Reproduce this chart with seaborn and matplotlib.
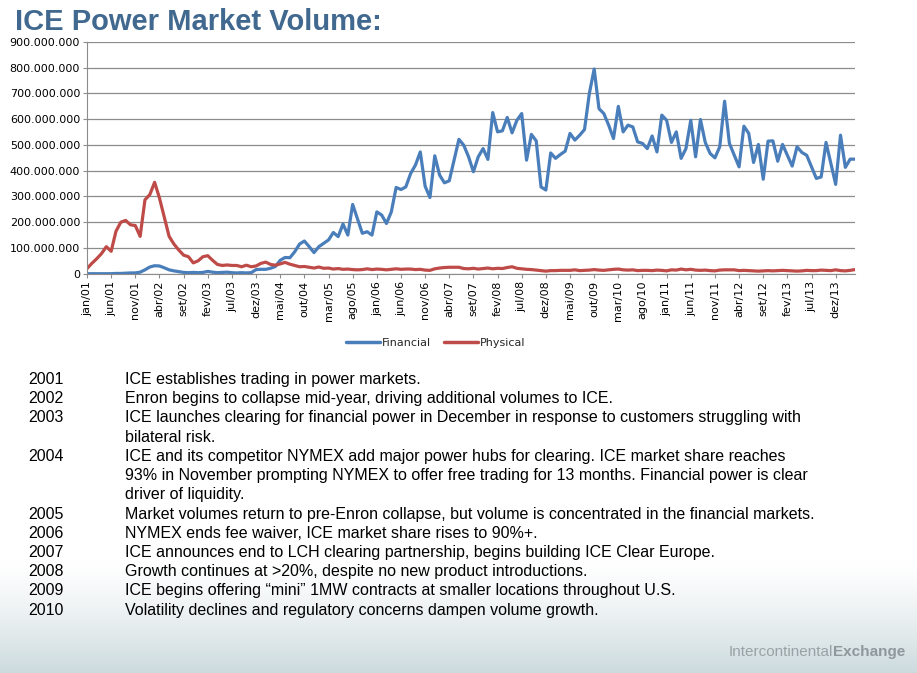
import numpy as np
import pandas as pd
import matplotlib
matplotlib.use("Agg")
import matplotlib.pyplot as plt
import seaborn as sns

# volumes in millions, monthly from jan/01
financial = [0, 0, 0, 0, 0, 0, 1, 1, 2, 3,
             3, 6, 15, 26, 31, 30, 23, 15, 11, 8,
             5, 4, 5, 4, 5, 9, 6, 4, 5, 6,
             4, 3, 4, 3, 4, 16, 17, 17, 21, 28,
             52, 63, 62, 85, 115, 127, 105, 82, 105, 118,
             131, 160, 144, 193, 150, 269, 213, 157, 163, 150,
             240, 228, 195, 240, 335, 327, 337, 389, 422, 473,
             340, 296, 458, 383, 353, 361, 441, 522, 499, 454,
             396, 454, 486, 444, 626, 551, 555, 607, 547, 596,
             622, 441, 541, 516, 337, 325, 469, 448, 463, 476,
             545, 519, 538, 560, 700, 795, 641, 622, 577, 525,
             650, 551, 577, 570, 512, 506, 486, 535, 473, 616,
             596, 510, 551, 448, 486, 596, 454, 599, 510, 467,
             450, 493, 670, 506, 460, 415, 573, 545, 432, 502,
             367, 515, 516, 437, 502, 460, 418, 493, 471, 460,
             415, 370, 376, 510, 428, 347, 538, 413, 445, 445]

physical = [20, 40, 58, 78, 105, 87, 165, 200, 207, 190,
            187, 145, 287, 307, 355, 294, 220, 145, 115, 92,
            72, 66, 42, 50, 66, 70, 52, 36, 32, 34,
            32, 32, 27, 33, 27, 30, 40, 45, 36, 33,
            38, 44, 37, 32, 27, 28, 25, 22, 26, 21,
            22, 18, 20, 17, 18, 16, 15, 16, 19, 16,
            18, 17, 15, 17, 19, 17, 18, 18, 16, 17,
            14, 13, 19, 22, 24, 25, 25, 25, 20, 19,
            21, 18, 20, 22, 19, 21, 20, 24, 27, 21,
            19, 17, 16, 14, 12, 10, 12, 12, 13, 13,
            13, 15, 12, 13, 14, 16, 14, 13, 15, 17,
            18, 15, 14, 15, 12, 13, 13, 12, 14, 13,
            11, 15, 14, 18, 15, 17, 14, 13, 14, 12,
            11, 14, 15, 15, 15, 12, 13, 12, 11, 10,
            11, 12, 11, 12, 13, 12, 11, 10, 11, 13,
            12, 12, 14, 13, 12, 15, 12, 11, 13, 16]

meses = ["jan", "fev", "mar", "abr", "mai", "jun",
         "jul", "ago", "set", "out", "nov", "dez"]

notes_year = ["2001", "2002", "2003", "", "2004", "", "", "2005",
              "2006", "2007", "2008", "2009", "2010"]
notes_text = [
    "ICE establishes trading in power markets.",
    "Enron begins to collapse mid-year, driving additional volumes to ICE.",
    "ICE launches clearing for financial power in December in response to customers struggling with",
    "bilateral risk.",
    "ICE and its competitor NYMEX add major power hubs for clearing. ICE market share reaches",
    "93% in November prompting NYMEX to offer free trading for 13 months. Financial power is clear",
    "driver of liquidity.",
    "Market volumes return to pre-Enron collapse, but volume is concentrated in the financial markets.",
    "NYMEX ends fee waiver, ICE market share rises to 90%+.",
    "ICE announces end to LCH clearing partnership, begins building ICE Clear Europe.",
    "Growth continues at >20%, despite no new product introductions.",
    "ICE begins offering \u201cmini\u201d 1MW contracts at smaller locations throughout U.S.",
    "Volatility declines and regulatory concerns dampen volume growth.",
]

n = len(financial)
labels = [f"{meses[i % 12]}/{(1 + i // 12):02d}" for i in range(n)]

df = pd.DataFrame({
    "mes": list(range(n)) * 2,
    "volume": np.array(financial + physical) * 1e6,
    "serie": ["Financial"] * n + ["Physical"] * n,
})

sns.set_style("white")
plt.rcParams["font.family"] = ["Liberation Sans", "DejaVu Sans"]

W, H = 917, 673
fig = plt.figure(figsize=(W / 100, H / 100), dpi=100)

# fundo com degrade na parte de baixo
bg = fig.add_axes([0, 0, 1, 1], zorder=-10)
grad = np.ones((H, 1, 3))
top_c = np.array([1.0, 1.0, 1.0])
bot_c = np.array([0.80, 0.855, 0.87])
for r in range(H):
    t = (r - 560) / (H - 560)
    t = min(max(t, 0), 1) ** 1.3
    grad[r, 0] = top_c * (1 - t) + bot_c * t
bg.imshow(grad, aspect="auto", extent=[0, W, H, 0])
bg.set_xlim(0, W)
bg.set_ylim(H, 0)
bg.axis("off")

ax = fig.add_axes([87 / W, 1 - 273.7 / H, (855 - 87) / W, (273.7 - 42) / H])
sns.lineplot(data=df, x="mes", y="volume", hue="serie",
             palette={"Financial": "#4A7EBB", "Physical": "#BE4B48"},
             linewidth=2.3, ax=ax, legend=True)

ax.set_xlim(0, n - 1)
ax.set_ylim(0, 900e6)
ax.set_yticks(np.arange(0, 900e6 + 1, 100e6))
ax.set_yticklabels([f"{int(v):,}".replace(",", ".") for v in np.arange(0, 900e6 + 1, 100e6)],
                   fontsize=8, family="DejaVu Sans")
ax.set_xticks(range(0, n, 5))
ax.set_xticklabels(labels[::5], rotation=90, fontsize=8, family="DejaVu Sans")
ax.set_xlabel("")
ax.set_ylabel("")
ax.grid(axis="y", color="#8C8C8C", linewidth=0.9)
ax.set_axisbelow(True)
for s in ["top", "right"]:
    ax.spines[s].set_visible(False)
for s in ["left", "bottom"]:
    ax.spines[s].set_color("#8C8C8C")
ax.tick_params(axis="both", which="both", length=3, color="#8C8C8C",
               direction="out", left=True, bottom=True, pad=2, labelcolor="black")
ax.patch.set_alpha(0)

leg = ax.legend(loc="center", bbox_to_anchor=(436 / W, 1 - 343 / H),
                bbox_transform=fig.transFigure, ncol=2, frameon=False,
                prop={"family": "DejaVu Sans", "size": 8},
                handlelength=3, columnspacing=1.2, handletextpad=0.2)
for line in leg.get_lines():
    line.set_linewidth(2.5)

fig.text(15 / W, 1 - 22 / H, "ICE Power Market Volume:", fontsize=21,
         fontweight="bold", color="#41698F", va="center", ha="left")

# notas por ano: duas colunas com o mesmo espacamento de linha
fig.text(28 / W, 1 - 372 / H, "\n".join(notes_year), fontsize=11.5,
         va="top", ha="left", color="black", linespacing=1.352)
fig.text(125 / W, 1 - 372 / H, "\n".join(notes_text), fontsize=11.5,
         va="top", ha="left", color="black", linespacing=1.352)

t2 = fig.text(905 / W, 1 - 652 / H, "Exchange", fontsize=11, fontweight="bold",
              color="#8E979B", va="center", ha="right")
bg.annotate("Intercontinental", xy=(0, 0), xycoords=t2, xytext=(0.5, 0),
            textcoords="offset points", fontsize=11,
            color="#99A2A6", va="bottom", ha="right")

fig.savefig("out.png", dpi=100)
